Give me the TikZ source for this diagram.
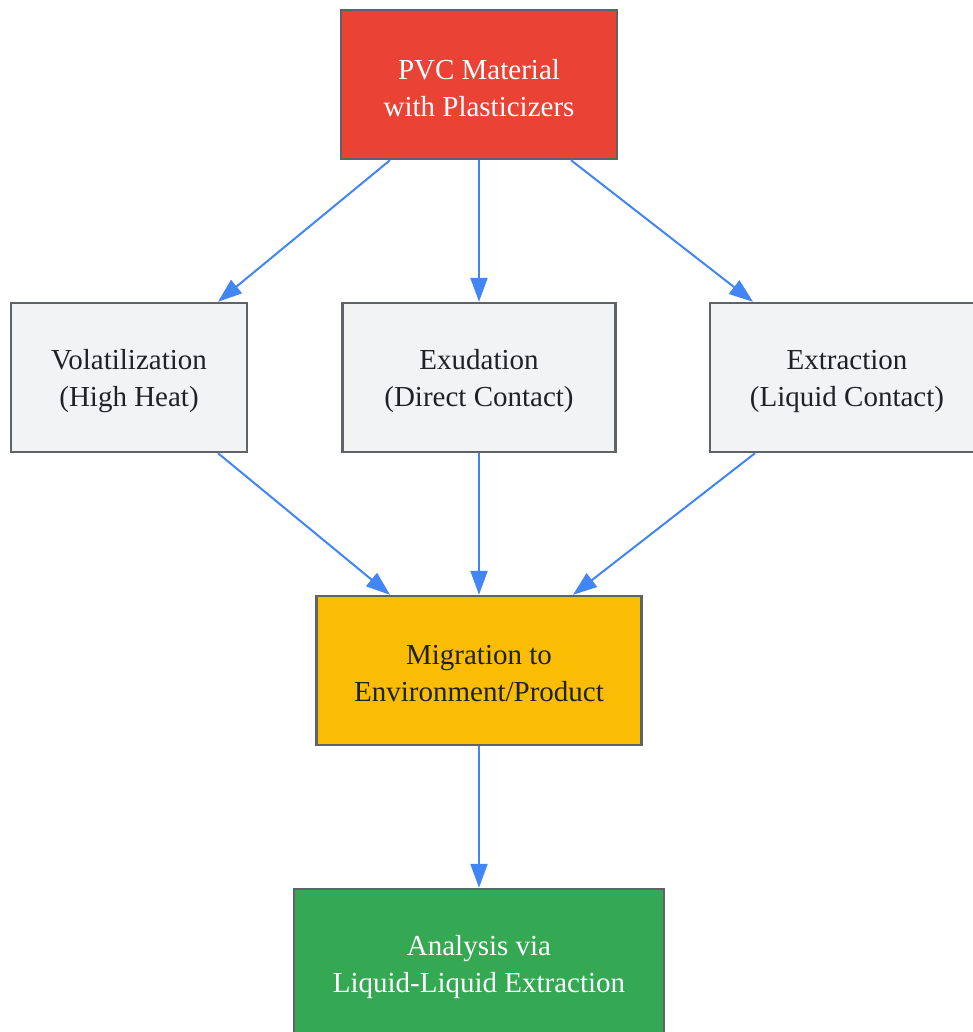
\documentclass[tikz,border=0pt]{standalone}
\usepackage{fontspec}
\setmainfont{Liberation Serif}
\usetikzlibrary{arrows.meta}
\definecolor{bordc}{HTML}{5F6368}
\definecolor{arrc}{HTML}{4285F4}
\definecolor{redc}{HTML}{EA4335}
\definecolor{greyc}{HTML}{F1F3F4}
\definecolor{yelc}{HTML}{FBBC04}
\definecolor{grnc}{HTML}{34A853}
\definecolor{txtc}{HTML}{202124}
\tikzset{
  box/.style={draw=bordc, line width=2.4pt, minimum height=149pt, inner sep=0pt},
  greybox/.style={box, fill=greyc},
  txt/.style={align=center, font=\fontsize{29pt}{37pt}\selectfont, inner sep=0pt, yshift=-3.5pt},
  conn/.style={draw=arrc, line width=2pt, -{Triangle[length=24pt,width=17pt]}}
}
\begin{document}
\begin{tikzpicture}[x=1pt,y=1pt]
\useasboundingbox[fill=white] (0,0) rectangle (973,-1032);
\node[box, fill=redc, minimum width=276pt] (pvc) at (479,-84.5) {};
\node[txt, text=white] (pvct) at (pvc.center) {PVC Material\\with Plasticizers};
\node[greybox, minimum width=236pt] (vol) at (129,-377.5) {};
\node[txt, text=txtc] (volt) at (vol.center) {Volatilization\\(High Heat)};
\node[greybox, minimum width=273pt] (exu) at (479,-377.5) {};
\node[txt, text=txtc] (exut) at (exu.center) {Exudation\\(Direct Contact)};
\node[greybox, minimum width=274pt] (ext) at (847,-377.5) {};
\node[txt, text=txtc] (extt) at (ext.center) {Extraction\\(Liquid Contact)};
\node[box, fill=yelc, minimum width=325pt] (mig) at (479,-670.5) {};
\node[txt, text=txtc] (migt) at (mig.center) {Migration to\\Environment/Product};
\node[box, fill=grnc, minimum width=370pt] (ana) at (479,-963.5) {};
\node[txt, text=white] (anat) at (ana.center) {Analysis via\\Liquid-Liquid Extraction};
\draw[conn] ([xshift=-89pt]pvc.south) -- ([xshift=89pt]vol.north);
\draw[conn] (pvc.south) -- (exu.north);
\draw[conn] ([xshift=92pt]pvc.south) -- ([xshift=-94pt]ext.north);
\draw[conn] ([xshift=89pt]vol.south) -- ([xshift=-89pt]mig.north);
\draw[conn] (exu.south) -- (mig.north);
\draw[conn] ([xshift=-92pt]ext.south) -- ([xshift=94pt]mig.north);
\draw[conn] (mig.south) -- (ana.north);
\end{tikzpicture}
\end{document}
